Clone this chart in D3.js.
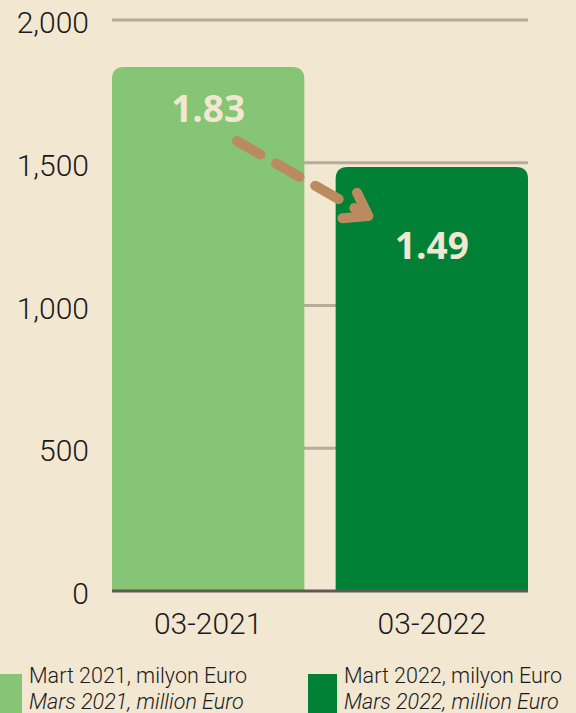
<!DOCTYPE html>
<html>
<head>
<meta charset="utf-8">
<script src="https://cdn.jsdelivr.net/npm/d3@7"></script>
<style>
  html, body { margin: 0; padding: 0; background: #f2e7d1; }
  svg { display: block; }
  .tick text { font-family: Roboto, sans-serif; font-weight: 300; fill: #1a1a1a; }
  .legend text { font-family: Roboto, sans-serif; font-weight: 300; fill: #1a1a1a; }
</style>
</head>
<body>
<svg class="chart"></svg>
<script>
var categories = ["03-2021", "03-2022"];
var values = [1835, 1485];
var labels = ["1.83", "1.49"];
var yTicks = [0, 500, 1000, 1500, 2000];
var legendTR = ["Mart 2021, milyon Euro", "Mart 2022, milyon Euro"];
var legendFR = ["Mars 2021, million Euro", "Mars 2022, million Euro"];
var colors = ["#86c576", "#008136"];

(function () {
    'use strict';

    var W = 576, H = 713;
    var margin = {top: 20, right: 48, bottom: 122, left: 112},
        width = W - margin.left - margin.right,
        height = H - margin.top - margin.bottom;

    var svg = d3.select(".chart").attr("width", W).attr("height", H);
    svg.append("rect").attr("width", W).attr("height", H).attr("fill", "#f2e7d1");

    var chart = svg.append("g")
        .attr("transform", "translate(" + margin.left + "," + margin.top + ")");

    var x = d3.scaleBand().domain(categories).range([0, width]).paddingInner(0.14).paddingOuter(0);
    var y = d3.scaleLinear().domain([0, 2000]).range([height, 0]);

    // gridlines
    chart.selectAll(".grid").data(yTicks.slice(1)).enter().append("line")
        .attr("class", "grid")
        .attr("x1", 0).attr("x2", width)
        .attr("y1", function(d) { return y(d); }).attr("y2", function(d) { return y(d); })
        .attr("stroke", "#b5ad9a").attr("stroke-width", 3);

    // y axis labels
    var yAxis = chart.append("g")
        .call(d3.axisLeft(y).tickValues(yTicks).tickSize(0).tickPadding(23).tickFormat(d3.format(",")));
    yAxis.select(".domain").remove();
    yAxis.selectAll("text").style("font-size", "30px").attr("dy", "0.42em");

    // bars with rounded top corners
    var r = 12;
    function barPath(d, i) {
        var x0 = x(categories[i]), x1 = x0 + x.bandwidth(), y0 = y(d), yb = y(0);
        return "M" + x0 + "," + yb +
            "V" + (y0 + r) +
            "Q" + x0 + "," + y0 + " " + (x0 + r) + "," + y0 +
            "H" + (x1 - r) +
            "Q" + x1 + "," + y0 + " " + x1 + "," + (y0 + r) +
            "V" + yb + "Z";
    }
    chart.selectAll(".bar").data(values).enter().append("path")
        .attr("class", "bar")
        .attr("d", barPath)
        .attr("fill", function(d, i) { return colors[i]; });

    // baseline
    chart.append("line")
        .attr("x1", 0).attr("x2", width)
        .attr("y1", y(0)).attr("y2", y(0))
        .attr("stroke", "#5f5a50").attr("stroke-width", 3);

    // x axis labels
    var xAxis = chart.append("g")
        .attr("transform", "translate(0," + height + ")")
        .call(d3.axisBottom(x).tickSize(0).tickPadding(22));
    xAxis.select(".domain").remove();
    xAxis.selectAll("text").style("font-size", "30px");

    // value labels (second one sits lower, under the arrow head)
    var labelDy = [55, 92];
    chart.selectAll(".val").data(values).enter().append("text")
        .attr("class", "val")
        .attr("x", function(d, i) { return x(categories[i]) + x.bandwidth() / 2; })
        .attr("y", function(d, i) { return y(d) + labelDy[i]; })
        .attr("text-anchor", "middle")
        .style("font-family", "'Open Sans', sans-serif")
        .style("font-weight", 700)
        .style("font-size", "37px")
        .style("fill", "#f2e7d1")
        .text(function(d, i) { return labels[i]; });

    // dashed arrow between the two values
    var ax0 = x(categories[0]) + x.bandwidth() * 0.65, ay0 = y(values[0]) + 74;
    var ax1 = x(categories[1]) + x.bandwidth() * 0.17, ay1 = y(values[1]) + 49;
    var ang = Math.atan2(ay1 - ay0, ax1 - ax0);
    var arrow = chart.append("g")
        .attr("stroke", "#bc8a5f").attr("stroke-width", 10)
        .attr("stroke-linecap", "round").attr("fill", "none");
    arrow.append("line")
        .attr("x1", ax0).attr("y1", ay0).attr("x2", ax1 - 8 * Math.cos(ang)).attr("y2", ay1 - 8 * Math.sin(ang))
        .attr("stroke-dasharray", "27,18");
    var hl = 26;
    arrow.append("path")
        .attr("stroke-linejoin", "round")
        .attr("d", "M" + (ax1 - hl * Math.cos(ang - 0.6)) + "," + (ay1 - hl * Math.sin(ang - 0.6)) +
            "L" + ax1 + "," + ay1 +
            "L" + (ax1 - hl * Math.cos(ang + 0.6)) + "," + (ay1 - hl * Math.sin(ang + 0.6)));

    // legend (bottom row runs off the page edge as in the source)
    var legend = svg.append("g").attr("class", "legend");
    var lx = [0, 308];
    var items = legend.selectAll(".item").data(categories).enter().append("g")
        .attr("class", "item")
        .attr("transform", function(d, i) { return "translate(" + lx[i] + ",674)"; });
    items.append("rect")
        .attr("width", function(d, i) { return i === 0 ? 22 : 29; }).attr("height", 50)
        .attr("fill", function(d, i) { return colors[i]; });
    items.append("text")
        .attr("x", function(d, i) { return i === 0 ? 29 : 36; }).attr("y", 9)
        .style("font-size", "21.5px")
        .text(function(d, i) { return legendTR[i]; });
    items.append("text")
        .attr("x", function(d, i) { return i === 0 ? 29 : 36; }).attr("y", 35)
        .style("font-size", "21.5px").style("font-style", "italic")
        .text(function(d, i) { return legendFR[i]; });
})();
</script>
</body>
</html>
